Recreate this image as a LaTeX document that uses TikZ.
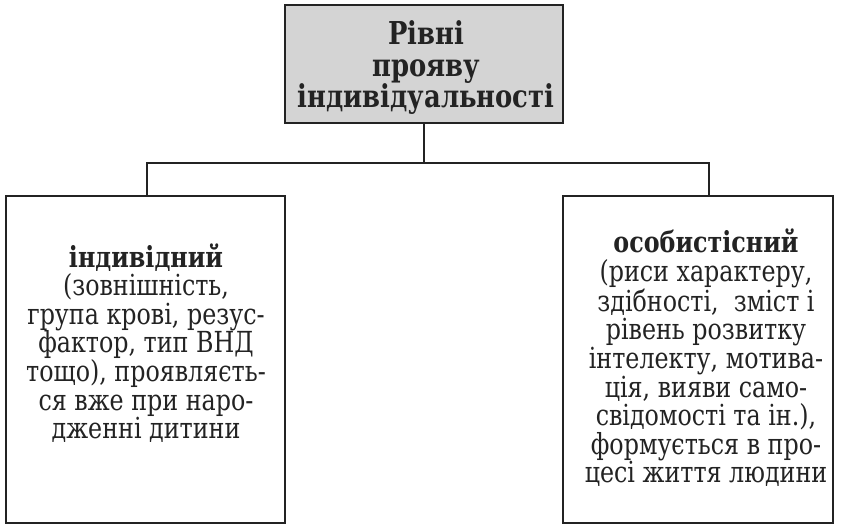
\documentclass[tikz,border=0pt]{standalone}
\usepackage{fontspec}
\setmainfont{DejaVu Serif}[FakeStretch=0.82]
\definecolor{boxgray}{RGB}{212,212,212}
\definecolor{ink}{RGB}{35,35,35}
\usetikzlibrary{positioning,calc}

\tikzset{
  frame/.style={draw=ink, line width=1.2pt, inner sep=0pt, outer sep=0pt},
  bodytext/.style={align=center, text=ink, font=\fontsize{29}{28.6}\selectfont},
  link/.style={draw=ink, line width=1.1pt}
}

\begin{document}
\begin{tikzpicture}[x=1pt,y=-1pt]
  \useasboundingbox (0,0) rectangle (842,525);
  % boxes
  \node[frame, fill=boxgray, minimum width=278pt, minimum height=118pt] (top) at (424,64) {};
  \node[frame, minimum width=279pt, minimum height=327pt] (left) at (145.5,359.5) {};
  \node[frame, minimum width=270pt, minimum height=327pt] (right) at (698,359.5) {};
  % texts
  \node[align=center, text=ink, font=\bfseries\fontsize{31.5}{31.5}\selectfont] (toptext) at (426,68)
    {Рівні\\прояву\\індивідуальності};
  \node[bodytext] (lefttext) at (146,343)
    {\textbf{індивідний}\\(зовнішність,\\група крові, резус-\\фактор, тип ВНД\\тощо), проявляєть-\\ся вже при наро-\\дженні дитини};
  \node[bodytext] (righttext) at (706,358)
    {\textbf{особистісний}\\(риси характеру,\\здібності,~ зміст і\\рівень розвитку\\інтелекту, мотива-\\ція, вияви само-\\свідомості та ін.),\\формується в про-\\цесі життя людини};
  % connectors
  \coordinate (split) at (424,163);
  \draw[link] (top.south) -- (split);
  \draw[link] ([xshift=1.5pt]left.north) |- (split) -| ([xshift=11pt]right.north);
\end{tikzpicture}
\end{document}
